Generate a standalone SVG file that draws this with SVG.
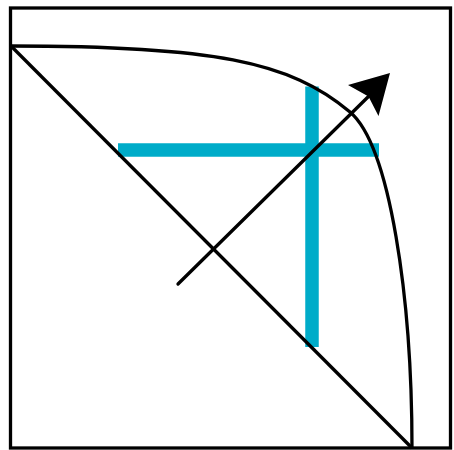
<svg xmlns="http://www.w3.org/2000/svg" width="454" height="450" viewBox="0 0 454 450">
<style>
.k{fill:none;stroke:#000;stroke-width:3.3}
.c{fill:none;stroke:#00acc9;stroke-width:13.5}
</style>
<rect width="454" height="450" fill="#fff"/>
<g id="frame"><rect class="k" x="10.5" y="8" width="440" height="440"/></g>
<g id="cross">
<line class="c" x1="118" y1="150" x2="379" y2="150"/>
<line class="c" x1="312" y1="86.5" x2="312" y2="347"/>
</g>
<g id="connectors">
<line class="k" x1="11" y1="46" x2="412" y2="448"/>
<path class="k" d="M11,46 C211,46 290,61 350,112 C390,146 412,298 412,448"/>
<line class="k" x1="178" y1="284" x2="371" y2="94" stroke-linecap="round"/>
<path d="M390,73 L378.5,116 L368.5,96.5 L348,85 Z" fill="#000"/>
</g>
</svg>
